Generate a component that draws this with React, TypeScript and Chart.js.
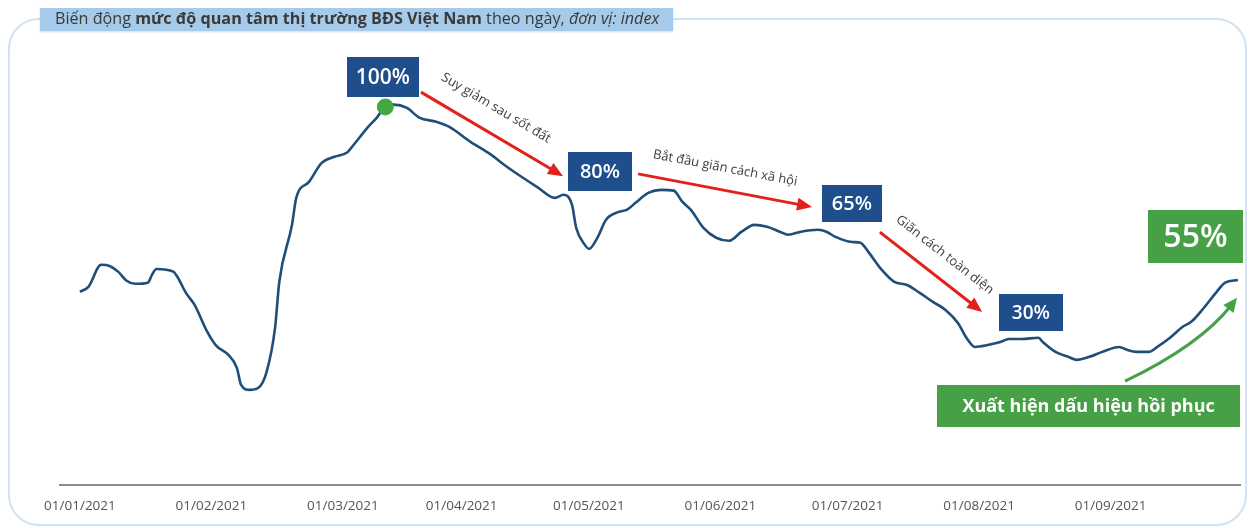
import React, { useEffect, useRef } from 'react';
import { Chart, registerables } from 'chart.js';

Chart.register(...registerables);

// Day offsets from 01/01/2021 and the index value
const days = [0, 2, 5, 7, 9, 11, 13, 16, 17, 18, 22, 23, 25, 27, 30, 32, 35, 37, 38, 40, 42, 44, 46, 47, 50, 51, 54, 57, 60, 63, 64, 68, 70, 72, 74, 77, 80, 84, 87, 92, 97, 100, 104, 108, 112, 114, 116, 117, 119, 120, 122, 124, 127, 129, 131, 134, 137, 140, 142, 144, 147, 150, 153, 156, 159, 162, 165, 167, 170, 174, 176, 178, 182, 184, 186, 189, 192, 195, 198, 201, 204, 207, 209, 211, 214, 217, 219, 222, 226, 227, 230, 233, 235, 238, 241, 245, 247, 249, 252, 254, 257, 260, 262, 265, 268, 270, 273];
const values = [50.8, 52.1, 57.9, 57.6, 56.1, 53.7, 52.9, 53.2, 55.3, 56.8, 56.1, 54.7, 50.5, 47.4, 40.3, 36.8, 34.2, 30.8, 26.3, 25.0, 25.5, 29.7, 41.3, 53.4, 68.4, 75.5, 79.7, 84.7, 86.3, 87.4, 88.7, 94.2, 96.6, 99.5, 100.0, 99.2, 96.6, 95.5, 94.2, 90.3, 86.8, 84.2, 81.1, 78.2, 75.5, 76.3, 73.7, 67.6, 63.2, 62.1, 65.0, 69.7, 71.8, 72.4, 74.2, 76.8, 77.6, 77.4, 74.5, 72.4, 67.6, 65.0, 64.2, 66.6, 68.4, 67.9, 66.6, 65.8, 66.6, 67.1, 66.6, 65.3, 63.9, 63.7, 61.1, 56.6, 53.4, 52.6, 50.5, 48.2, 46.1, 42.6, 38.7, 36.3, 36.8, 37.6, 38.4, 38.4, 38.7, 37.6, 35.0, 33.7, 32.9, 33.7, 35.0, 36.3, 35.5, 35.0, 35.0, 36.3, 38.7, 41.6, 42.9, 46.6, 50.8, 53.2, 53.9];

const tickDays = [0, 31, 62, 90, 120, 151, 181, 212, 243];
const tickLabels = ['01/01/2021', '01/02/2021', '01/03/2021', '01/04/2021', '01/05/2021', '01/06/2021', '01/07/2021', '01/08/2021', '01/09/2021'];

const peakDay = 72;
const peakValue = 99.4;

// Annotation boxes (anchored in data units)
const boxTexts = ['100%', '80%', '65%', '30%', '55%', 'Xuất hiện dấu hiệu hồi phục'];
const boxDays = [71.4, 122.6, 182.0, 224.2, 263.0, 237.8];
const boxValues = [107.3, 82.4, 74.0, 45.4, 65.3, 20.8];

// Red trend arrows and their captions
const arrowFromDays = [80.4, 131.6, 188.6];
const arrowFromValues = [103.3, 81.8, 66.5];
const arrowToDays = [113.9, 172.6, 212.7];
const arrowToValues = [81.2, 73.1, 45.5];
const arrowCaptions = ['Suy giảm sau sốt đất', 'Bắt đầu giãn cách xã hội', 'Giãn cách toàn diện'];
const captionDays = [98.1, 152.1, 203.9];
const captionValues = [99.1, 83.3, 60.5];

// Green recovery curve arrow: start, control, end
const recoveryDays = [246.4, 264.1, 272.8];
const recoveryValues = [27.3, 36.8, 49.2];

const BLUE = '#1f4e8c';
const GREEN = '#46a046';
const RED = '#e3201b';

const boxStyles = [
  { w: 72, h: 40, fill: BLUE, font: '600 21px "Open Sans"' },
  { w: 64, h: 39, fill: BLUE, font: '600 20px "Open Sans"' },
  { w: 60, h: 37, fill: BLUE, font: '600 20px "Open Sans"' },
  { w: 64, h: 37, fill: BLUE, font: '600 19px "Open Sans"' },
  { w: 95, h: 53, fill: GREEN, font: '600 32px "Open Sans"' },
  { w: 303, h: 42, fill: GREEN, font: '700 18px "Open Sans"' },
];

function arrowHead(ctx: CanvasRenderingContext2D, x: number, y: number, ang: number, color: string, len = 15, wid = 13) {
  ctx.save();
  ctx.translate(x, y);
  ctx.rotate(ang);
  ctx.fillStyle = color;
  ctx.beginPath();
  ctx.moveTo(0, 0);
  ctx.lineTo(-len, -wid / 2);
  ctx.lineTo(-len, wid / 2);
  ctx.closePath();
  ctx.fill();
  ctx.restore();
}

const decorPlugin = {
  id: 'decor',
  beforeDraw(chart: any) {
    const ctx: CanvasRenderingContext2D = chart.ctx;
    ctx.save();
    ctx.fillStyle = '#ffffff';
    ctx.fillRect(0, 0, chart.width, chart.height);
    // frame
    ctx.strokeStyle = '#d3e2f0';
    ctx.lineWidth = 2;
    ctx.beginPath();
    (ctx as any).roundRect(9, 19, 1237, 506, 30);
    ctx.stroke();
    // title box
    ctx.fillStyle = '#a6cbea';
    ctx.shadowColor = 'rgba(0,0,0,0.15)';
    ctx.shadowBlur = 2;
    ctx.shadowOffsetY = 1;
    ctx.fillRect(40, 8, 633, 23);
    ctx.shadowColor = 'transparent';
    const segs = [
      { t: 'Biến động ', st: 'normal', wt: '400' },
      { t: 'mức độ quan tâm thị trường BĐS Việt Nam', st: 'normal', wt: '700' },
      { t: ' theo ngày, ', st: 'normal', wt: '400' },
      { t: 'đơn vị: index', st: 'italic', wt: '400' },
    ];
    const base = 13;
    let total = 0;
    for (const s of segs) {
      ctx.font = `${s.st} ${s.wt} ${base}px "Open Sans"`;
      total += ctx.measureText(s.t).width;
    }
    const size = base * (605 / total);
    let x = 55;
    ctx.fillStyle = '#3a3a3a';
    ctx.textBaseline = 'middle';
    ctx.textAlign = 'left';
    for (const s of segs) {
      ctx.font = `${s.st} ${s.wt} ${size}px "Open Sans"`;
      ctx.fillText(s.t, x, 19.5);
      x += ctx.measureText(s.t).width;
    }
    ctx.restore();
  },
  afterDatasetsDraw(chart: any) {
    const ctx: CanvasRenderingContext2D = chart.ctx;
    const xs = chart.scales.x;
    const ys = chart.scales.y;
    const px = (d: number) => xs.getPixelForValue(d);
    const py = (v: number) => ys.getPixelForValue(v);
    ctx.save();
    // red arrows
    for (let i = 0; i < arrowCaptions.length; i++) {
      const x1 = px(arrowFromDays[i]);
      const y1 = py(arrowFromValues[i]);
      const x2 = px(arrowToDays[i]);
      const y2 = py(arrowToValues[i]);
      const ang = Math.atan2(y2 - y1, x2 - x1);
      ctx.strokeStyle = RED;
      ctx.lineWidth = 3;
      ctx.beginPath();
      ctx.moveTo(x1, y1);
      ctx.lineTo(x2 - 10 * Math.cos(ang), y2 - 10 * Math.sin(ang));
      ctx.stroke();
      arrowHead(ctx, x2, y2, ang, RED);
      ctx.save();
      ctx.translate(px(captionDays[i]), py(captionValues[i]));
      ctx.rotate(ang);
      ctx.fillStyle = '#3c3c3c';
      ctx.font = '400 13px "Open Sans"';
      ctx.textAlign = 'center';
      ctx.textBaseline = 'middle';
      ctx.fillText(arrowCaptions[i], 0, 0);
      ctx.restore();
    }
    // green curved arrow
    const gx0 = px(recoveryDays[0]);
    const gy0 = py(recoveryValues[0]);
    const gcx = px(recoveryDays[1]);
    const gcy = py(recoveryValues[1]);
    const gx1 = px(recoveryDays[2]);
    const gy1 = py(recoveryValues[2]);
    const gAng = Math.atan2(gy1 - gcy, gx1 - gcx);
    ctx.strokeStyle = GREEN;
    ctx.lineWidth = 3;
    ctx.beginPath();
    ctx.moveTo(gx0, gy0);
    ctx.quadraticCurveTo(gcx, gcy, gx1 - 9 * Math.cos(gAng), gy1 - 9 * Math.sin(gAng));
    ctx.stroke();
    arrowHead(ctx, gx1, gy1, gAng, GREEN, 14, 13);
    // boxes
    for (let i = 0; i < boxTexts.length; i++) {
      const st = boxStyles[i];
      const cx = px(boxDays[i]);
      const cy = py(boxValues[i]);
      ctx.fillStyle = st.fill;
      ctx.fillRect(Math.round(cx - st.w / 2), Math.round(cy - st.h / 2), st.w, st.h);
      ctx.fillStyle = '#ffffff';
      ctx.font = st.font;
      ctx.textAlign = 'center';
      ctx.textBaseline = 'middle';
      ctx.fillText(boxTexts[i], cx, cy + 1);
    }
    ctx.restore();
  },
};

export default function App() {
  const ref = useRef<HTMLCanvasElement>(null);
  useEffect(() => {
    if (!ref.current) return;
    const chart = new Chart(ref.current, {
      type: 'line',
      data: {
        datasets: [
          {
            label: 'peak',
            data: [{ x: peakDay, y: peakValue }],
            showLine: false,
            pointRadius: 8,
            pointHoverRadius: 8,
            pointBackgroundColor: '#43a843',
            pointBorderColor: '#43a843',
            order: 0,
          },
          {
            label: 'index',
            data: days.map((d, i) => ({ x: d, y: values[i] })),
            borderColor: '#1f4e79',
            borderWidth: 2.6,
            pointRadius: 0,
            cubicInterpolationMode: 'monotone',
            fill: false,
            order: 1,
          },
        ],
      },
      options: {
        animation: false,
        responsive: false,
        layout: { padding: { left: 60, right: 12, top: 40, bottom: 0 } },
        plugins: { legend: { display: false }, tooltip: { enabled: false }, title: { display: false } },
        scales: {
          x: {
            type: 'linear',
            min: -4.7,
            max: 273.5,
            grid: { display: false, drawTicks: false },
            border: { display: true, color: '#8a8a8a', width: 2 },
            afterFit: (axis: any) => {
              axis.height = 43;
            },
            afterBuildTicks: (axis: any) => {
              axis.ticks = tickDays.map((v) => ({ value: v }));
            },
            ticks: {
              autoSkip: false,
              maxRotation: 0,
              padding: 13,
              color: '#555555',
              font: { family: 'Open Sans', size: 13.5 },
              callback: (v: any) => {
                const i = tickDays.indexOf(Number(v));
                return i >= 0 ? tickLabels[i] : '';
              },
            },
          },
          y: {
            display: false,
            min: 0,
            max: 117,
          },
        },
      },
      plugins: [decorPlugin],
    } as any);
    return () => chart.destroy();
  }, []);
  return (
    <div style={{ position: 'fixed', left: 0, top: 0, width: 1252, height: 528, background: '#fff' }}>
      <canvas ref={ref} width={1252} height={528} style={{ display: 'block' }} />
    </div>
  );
}
